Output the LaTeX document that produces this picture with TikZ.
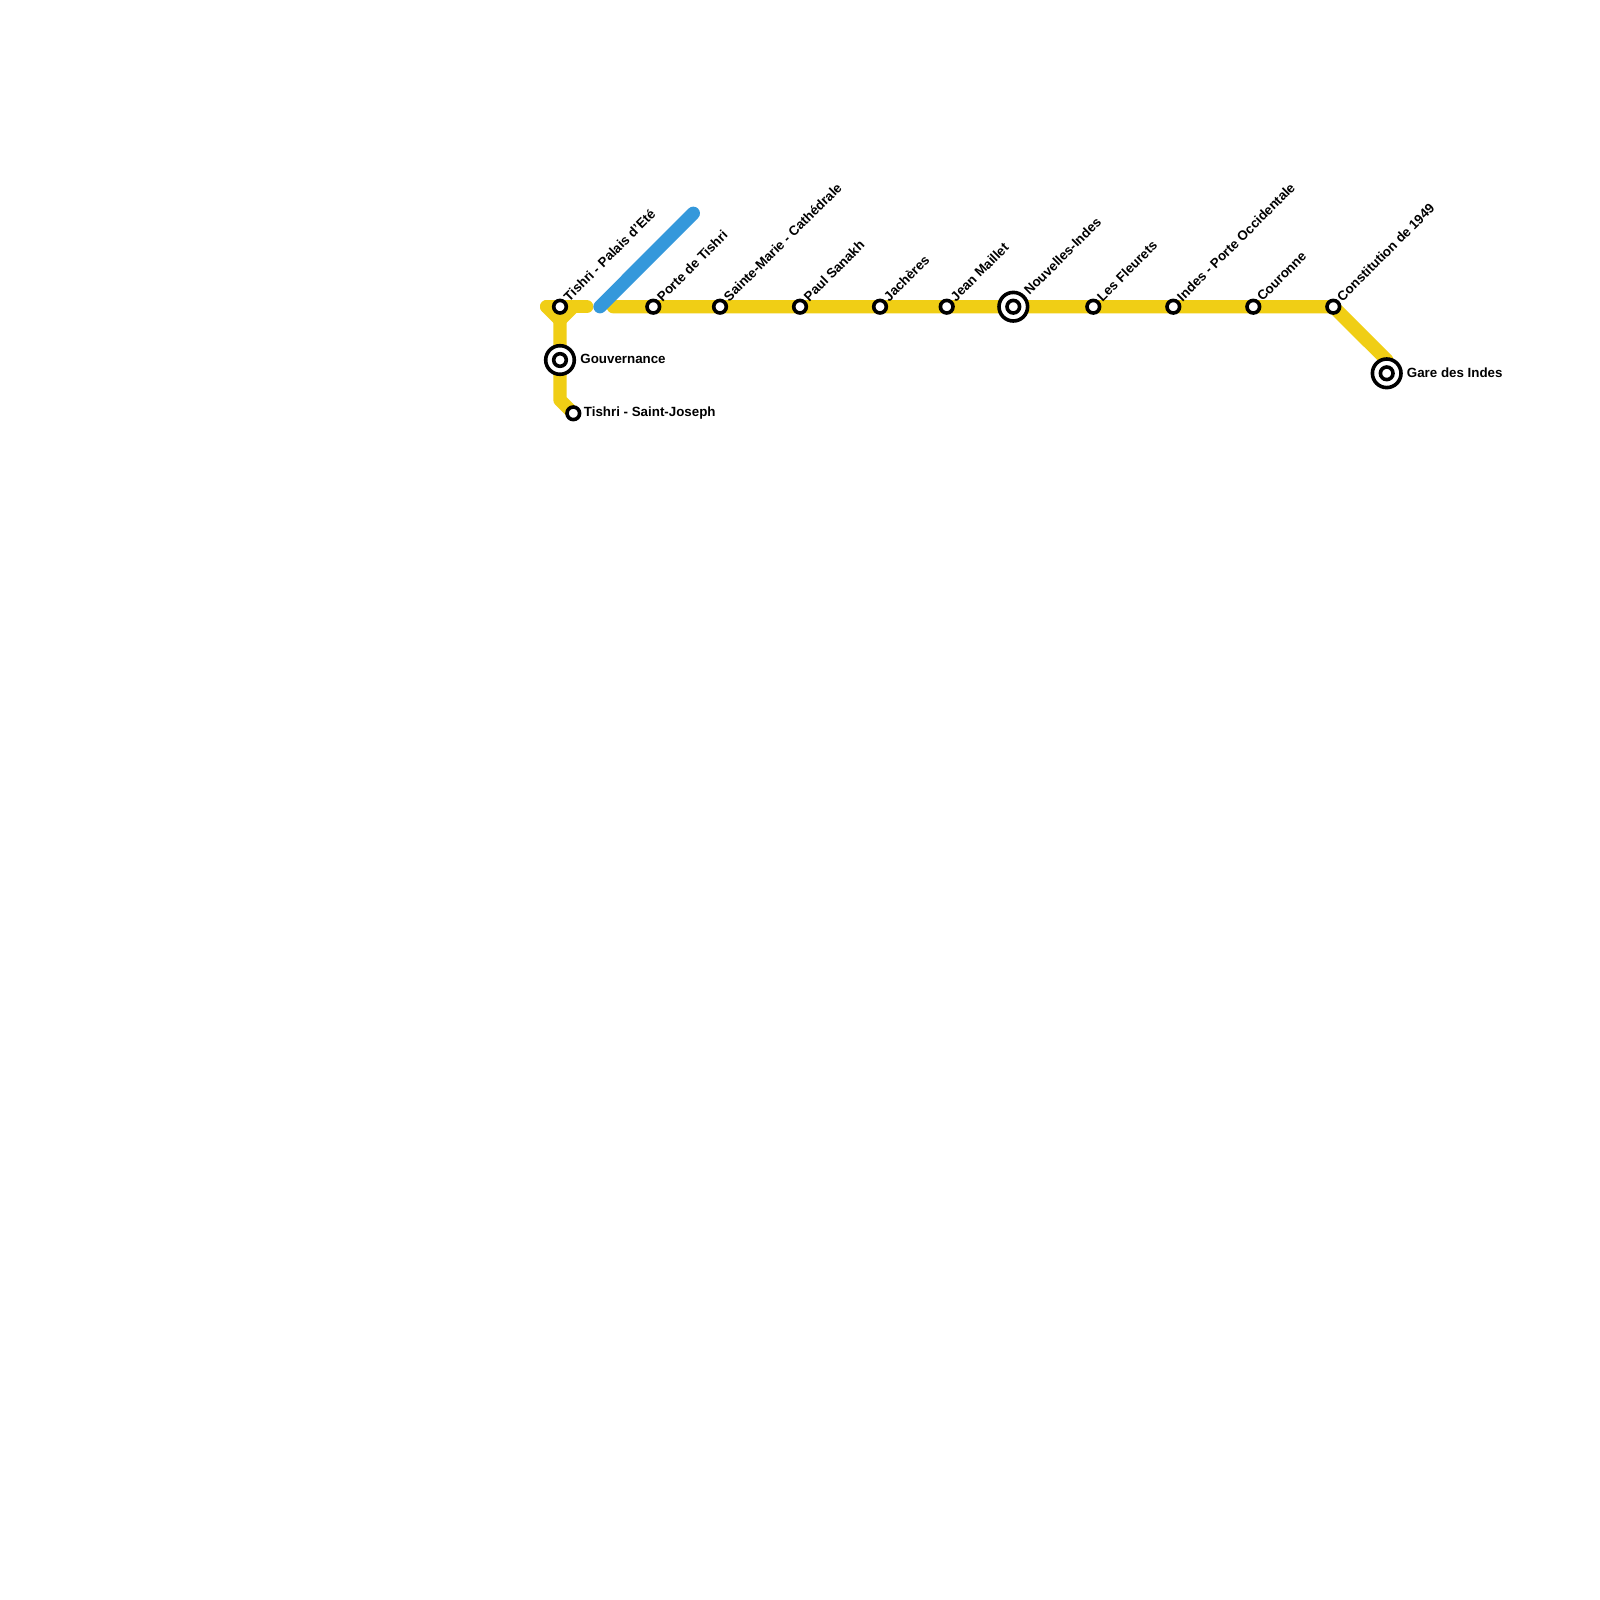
\documentclass[tikz,border=0pt]{standalone}
\usepackage{fontspec}
\setmainfont{Liberation Sans}
\definecolor{lineyellow}{HTML}{F0CE15}
\definecolor{lineblue}{HTML}{3498DB}
\tikzset{
  x=0.5pt,y=-0.5pt,
  track/.style={line width=6.67pt,line cap=round,line join=round},
  stop/.style={circle,draw=black,fill=white,line width=1.8pt,minimum size=6.3pt,inner sep=0pt},
  hub/.style={circle,draw=black,fill=white,line width=1.8pt,minimum size=14.3pt,inner sep=0pt},
  lbl/.style={font=\fontsize{6.67pt}{8pt}\selectfont\bfseries,inner sep=0pt,text=black},
  diag/.style={lbl,rotate=45,anchor=west},
}
\begin{document}
\begin{tikzpicture}
\useasboundingbox[fill=white] (0,0) rectangle (1600,1600);
% free ends
\coordinate (a1) at (546.7,306.7);
\coordinate (a2) at (586.7,306.7);
\coordinate (a3) at (560,320);
\coordinate (a4) at (560,400);
\coordinate (a5) at (573.3,306.7);
\coordinate (b1) at (613.3,306.7);
\coordinate (b2) at (1386.7,360);
\coordinate (c1) at (600,306.7);
\coordinate (c2) at (693.3,213.3);
% stations
\coordinate (tp) at (560,306.7);
\coordinate (gv) at (560,360);
\coordinate (sj) at (573.3,413.3);
\coordinate (pt) at (653.3,306.7);
\coordinate (sm) at (720,306.7);
\coordinate (ps) at (800,306.7);
\coordinate (ja) at (880,306.7);
\coordinate (jm) at (946.7,306.7);
\coordinate (ni) at (1013.3,306.7);
\coordinate (lf) at (1093.3,306.7);
\coordinate (ip) at (1173.3,306.7);
\coordinate (co) at (1253.3,306.7);
\coordinate (cn) at (1333.3,306.7);
\coordinate (gi) at (1386.7,373.3);
% lines
\draw[track,lineyellow] (a1) -- (a2);
\draw[track,lineyellow] (a1) -- (a3) -- (a5);
\draw[track,lineyellow] (a3) -- (a4) -- (sj);
\draw[track,lineyellow] (b1) -- (cn) -- (b2) -- (gi);
\draw[track,lineblue] (c1) -- (c2);
% stops
\foreach \p in {tp,sj,pt,sm,ps,ja,jm,lf,ip,co,cn}
  \node[stop] (n\p) at (\p) {};
\foreach \p in {gv,ni,gi}{
  \node[hub] (n\p) at (\p) {};
  \node[stop] (m\p) at (\p) {};
}
% labels
\node[diag] (ltp) at (565.7,299) {Tishri - Palais d'Eté};
\node[diag] (lpt) at (659,299) {Porte de Tishri};
\node[diag] (lsm) at (725.7,299) {Sainte-Marie - Cathédrale};
\node[diag] (lps) at (805.7,299) {Paul Sanakh};
\node[diag] (lja) at (885.7,299) {Jachères};
\node[diag] (ljm) at (952.4,299) {Jean Maillet};
\node[diag] (lni) at (1026,292.5) {Nouvelles-Indes};
\node[diag] (llf) at (1099,299) {Les Fleurets};
\node[diag] (lip) at (1179,299) {Indes - Porte Occidentale};
\node[diag] (lco) at (1259,299) {Couronne};
\node[diag] (lcn) at (1339,299) {Constitution de 1949};
\node[lbl,anchor=west] (lgv) at (580,359) {Gouvernance};
\node[lbl,anchor=west] (lsj) at (583.5,413.5) {Tishri - Saint-Joseph};
\node[lbl,anchor=west] (lgi) at (1406.5,372.5) {Gare des Indes};
\end{tikzpicture}
\end{document}
